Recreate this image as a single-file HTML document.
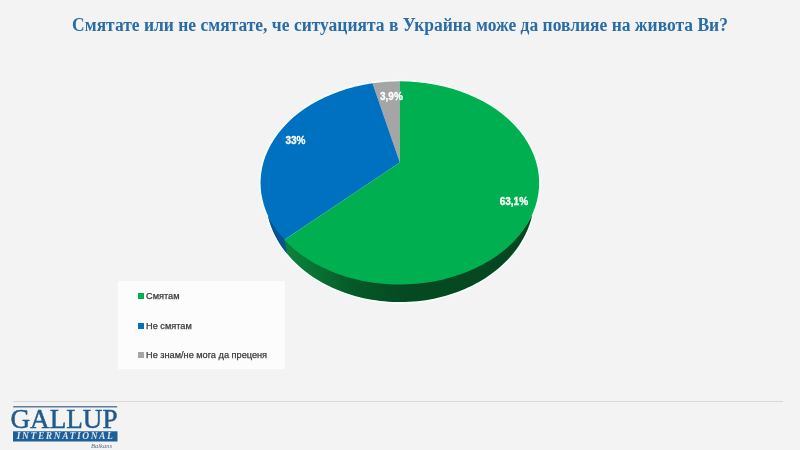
<!DOCTYPE html>
<html><head><meta charset="utf-8">
<style>
html,body{margin:0;padding:0;}
body{width:800px;height:450px;overflow:hidden;background:#f3f3f3;position:relative;font-family:"Liberation Sans","DejaVu Sans",sans-serif;}
.title{position:absolute;left:0;top:12.5px;width:800px;text-align:center;font-family:"Liberation Serif","DejaVu Serif",serif;font-weight:bold;font-size:18px;color:#2a6ca5;white-space:nowrap;line-height:24px;transform:scaleX(0.972);transform-origin:400px 0;}
.legend{position:absolute;left:118px;top:281px;width:167px;height:88px;background:#fcfcfc;}
.li{position:absolute;left:20px;font-size:9.2px;color:#3a3a3a;white-space:nowrap;line-height:12px;-webkit-text-stroke:0.25px #3a3a3a;}
.li i{position:absolute;left:0;top:3px;width:6px;height:6px;}
.li span{position:absolute;left:8px;top:0;}
.sep{position:absolute;left:13px;top:400.5px;width:770px;height:1px;background:#d8d8d8;}
</style></head>
<body>
<div id="wrap" style="position:absolute;left:0;top:0;width:800px;height:450px;filter:blur(0.3px)">
<div class="title">Смятате или не смятате, че ситуацията в Украйна може да повлияе на живота Ви?</div>

<svg width="800" height="450" style="position:absolute;left:0;top:0">
<defs>
<linearGradient id="gside" x1="285" y1="0" x2="537" y2="0" gradientUnits="userSpaceOnUse">
<stop offset="0" stop-color="#0e823d"/><stop offset="0.1" stop-color="#0a7535"/><stop offset="0.26" stop-color="#065a28"/><stop offset="0.46" stop-color="#054a22"/><stop offset="1" stop-color="#05461f"/>
</linearGradient>
<linearGradient id="bside" x1="260" y1="0" x2="290" y2="0" gradientUnits="userSpaceOnUse">
<stop offset="0" stop-color="#0b5595"/><stop offset="1" stop-color="#0a5090"/>
</linearGradient>
</defs>
<!-- halo -->
<ellipse cx="399.85" cy="182.9" rx="139.3" ry="101.6" fill="none" stroke="#f4fffa" stroke-width="3.2"/>
<path d="M532.45,214.02 L531.22,216.42 L529.87,218.96 L528.43,221.49 L526.89,224.02 L525.25,226.51 L523.52,228.98 L521.68,231.42 L519.76,233.83 L517.74,236.19 L515.62,238.52 L513.42,240.81 L511.13,243.06 L508.76,245.25 L506.30,247.41 L503.76,249.51 L501.13,251.56 L498.43,253.56 L495.65,255.51 L492.80,257.40 L489.88,259.23 L486.88,261.00 L483.82,262.71 L480.70,264.37 L477.51,265.95 L474.26,267.48 L470.95,268.94 L467.59,270.33 L464.17,271.65 L460.71,272.91 L457.20,274.09 L453.64,275.21 L450.05,276.25 L446.41,277.22 L442.74,278.12 L439.03,278.94 L435.29,279.69 L431.53,280.37 L427.74,280.96 L423.93,281.49 L420.10,281.93 L416.26,282.30 L412.40,282.59 L408.54,282.80 L404.66,282.94 L400.79,283.00 L396.91,282.98 L393.03,282.88 L389.16,282.70 L385.30,282.45 L381.45,282.12 L377.61,281.71 L373.79,281.23 L369.99,280.67 L366.22,280.03 L362.47,279.32 L358.75,278.53 L355.06,277.67 L351.41,276.74 L347.79,275.73 L344.21,274.65 L340.68,273.50 L337.19,272.28 L333.75,270.98 L330.36,269.63 L327.03,268.20 L323.75,266.71 L320.54,265.15 L317.38,263.53 L314.29,261.85 L311.26,260.10 L308.30,258.30 L305.41,256.44 L302.60,254.52 L299.86,252.55 L297.20,250.52 L294.62,248.44 L292.12,246.32 L289.70,244.14 L287.37,241.92 L285.13,239.65 L282.97,237.34 L280.91,235.00 L278.94,232.61 L277.06,230.19 L275.27,227.74 L273.59,225.26 L272.00,222.75 L270.51,220.23 L269.12,217.70 L267.83,215.32 L267.83,215.32 L268.63,218.53 L269.56,221.73 L270.61,224.90 L271.79,228.04 L273.09,231.15 L274.52,234.23 L276.06,237.28 L277.73,240.28 L279.51,243.24 L281.42,246.16 L283.43,249.03 L285.56,251.85 L287.80,254.61 L290.15,257.32 L292.60,259.97 L295.16,262.56 L297.82,265.09 L300.58,267.55 L303.44,269.94 L306.39,272.26 L309.43,274.51 L312.55,276.68 L315.76,278.78 L319.06,280.79 L322.43,282.73 L325.87,284.58 L329.39,286.34 L332.98,288.02 L336.63,289.61 L340.34,291.11 L344.11,292.52 L347.94,293.84 L351.81,295.06 L355.73,296.19 L359.70,297.22 L363.70,298.16 L367.74,299.00 L371.81,299.73 L375.91,300.37 L380.03,300.91 L384.17,301.35 L388.32,301.68 L392.49,301.92 L396.66,302.05 L400.84,302.08 L405.01,302.01 L409.19,301.83 L413.35,301.56 L417.50,301.18 L421.63,300.70 L425.74,300.13 L429.83,299.45 L433.88,298.67 L437.91,297.79 L441.90,296.82 L445.85,295.75 L449.75,294.58 L453.60,293.32 L457.41,291.97 L461.15,290.52 L464.84,288.98 L468.47,287.36 L472.03,285.64 L475.52,283.84 L478.93,281.96 L482.28,279.99 L485.54,277.94 L488.71,275.82 L491.81,273.61 L494.81,271.34 L497.72,268.99 L500.54,266.57 L503.26,264.08 L505.88,261.53 L508.39,258.92 L510.81,256.24 L513.11,253.51 L515.31,250.72 L517.39,247.88 L519.36,244.99 L521.22,242.06 L522.95,239.08 L524.57,236.06 L526.07,233.00 L527.45,229.91 L528.70,226.78 L529.83,223.63 L530.83,220.45 L531.71,217.24 L532.45,214.02 Z" fill="none" stroke="#f4fffa" stroke-width="3.2"/>
<!-- sides -->
<clipPath id="cb"><polygon points="0,0 284.49,0 284.49,239.84 295.76,300 0,300"/></clipPath>
<path d="M532.45,214.02 L531.22,216.42 L529.87,218.96 L528.43,221.49 L526.89,224.02 L525.25,226.51 L523.52,228.98 L521.68,231.42 L519.76,233.83 L517.74,236.19 L515.62,238.52 L513.42,240.81 L511.13,243.06 L508.76,245.25 L506.30,247.41 L503.76,249.51 L501.13,251.56 L498.43,253.56 L495.65,255.51 L492.80,257.40 L489.88,259.23 L486.88,261.00 L483.82,262.71 L480.70,264.37 L477.51,265.95 L474.26,267.48 L470.95,268.94 L467.59,270.33 L464.17,271.65 L460.71,272.91 L457.20,274.09 L453.64,275.21 L450.05,276.25 L446.41,277.22 L442.74,278.12 L439.03,278.94 L435.29,279.69 L431.53,280.37 L427.74,280.96 L423.93,281.49 L420.10,281.93 L416.26,282.30 L412.40,282.59 L408.54,282.80 L404.66,282.94 L400.79,283.00 L396.91,282.98 L393.03,282.88 L389.16,282.70 L385.30,282.45 L381.45,282.12 L377.61,281.71 L373.79,281.23 L369.99,280.67 L366.22,280.03 L362.47,279.32 L358.75,278.53 L355.06,277.67 L351.41,276.74 L347.79,275.73 L344.21,274.65 L340.68,273.50 L337.19,272.28 L333.75,270.98 L330.36,269.63 L327.03,268.20 L323.75,266.71 L320.54,265.15 L317.38,263.53 L314.29,261.85 L311.26,260.10 L308.30,258.30 L305.41,256.44 L302.60,254.52 L299.86,252.55 L297.20,250.52 L294.62,248.44 L292.12,246.32 L289.70,244.14 L287.37,241.92 L285.13,239.65 L282.97,237.34 L280.91,235.00 L278.94,232.61 L277.06,230.19 L275.27,227.74 L273.59,225.26 L272.00,222.75 L270.51,220.23 L269.12,217.70 L267.83,215.32 L267.83,215.32 L268.63,218.53 L269.56,221.73 L270.61,224.90 L271.79,228.04 L273.09,231.15 L274.52,234.23 L276.06,237.28 L277.73,240.28 L279.51,243.24 L281.42,246.16 L283.43,249.03 L285.56,251.85 L287.80,254.61 L290.15,257.32 L292.60,259.97 L295.16,262.56 L297.82,265.09 L300.58,267.55 L303.44,269.94 L306.39,272.26 L309.43,274.51 L312.55,276.68 L315.76,278.78 L319.06,280.79 L322.43,282.73 L325.87,284.58 L329.39,286.34 L332.98,288.02 L336.63,289.61 L340.34,291.11 L344.11,292.52 L347.94,293.84 L351.81,295.06 L355.73,296.19 L359.70,297.22 L363.70,298.16 L367.74,299.00 L371.81,299.73 L375.91,300.37 L380.03,300.91 L384.17,301.35 L388.32,301.68 L392.49,301.92 L396.66,302.05 L400.84,302.08 L405.01,302.01 L409.19,301.83 L413.35,301.56 L417.50,301.18 L421.63,300.70 L425.74,300.13 L429.83,299.45 L433.88,298.67 L437.91,297.79 L441.90,296.82 L445.85,295.75 L449.75,294.58 L453.60,293.32 L457.41,291.97 L461.15,290.52 L464.84,288.98 L468.47,287.36 L472.03,285.64 L475.52,283.84 L478.93,281.96 L482.28,279.99 L485.54,277.94 L488.71,275.82 L491.81,273.61 L494.81,271.34 L497.72,268.99 L500.54,266.57 L503.26,264.08 L505.88,261.53 L508.39,258.92 L510.81,256.24 L513.11,253.51 L515.31,250.72 L517.39,247.88 L519.36,244.99 L521.22,242.06 L522.95,239.08 L524.57,236.06 L526.07,233.00 L527.45,229.91 L528.70,226.78 L529.83,223.63 L530.83,220.45 L531.71,217.24 L532.45,214.02 Z" fill="url(#gside)"/>
<path d="M532.45,214.02 L531.22,216.42 L529.87,218.96 L528.43,221.49 L526.89,224.02 L525.25,226.51 L523.52,228.98 L521.68,231.42 L519.76,233.83 L517.74,236.19 L515.62,238.52 L513.42,240.81 L511.13,243.06 L508.76,245.25 L506.30,247.41 L503.76,249.51 L501.13,251.56 L498.43,253.56 L495.65,255.51 L492.80,257.40 L489.88,259.23 L486.88,261.00 L483.82,262.71 L480.70,264.37 L477.51,265.95 L474.26,267.48 L470.95,268.94 L467.59,270.33 L464.17,271.65 L460.71,272.91 L457.20,274.09 L453.64,275.21 L450.05,276.25 L446.41,277.22 L442.74,278.12 L439.03,278.94 L435.29,279.69 L431.53,280.37 L427.74,280.96 L423.93,281.49 L420.10,281.93 L416.26,282.30 L412.40,282.59 L408.54,282.80 L404.66,282.94 L400.79,283.00 L396.91,282.98 L393.03,282.88 L389.16,282.70 L385.30,282.45 L381.45,282.12 L377.61,281.71 L373.79,281.23 L369.99,280.67 L366.22,280.03 L362.47,279.32 L358.75,278.53 L355.06,277.67 L351.41,276.74 L347.79,275.73 L344.21,274.65 L340.68,273.50 L337.19,272.28 L333.75,270.98 L330.36,269.63 L327.03,268.20 L323.75,266.71 L320.54,265.15 L317.38,263.53 L314.29,261.85 L311.26,260.10 L308.30,258.30 L305.41,256.44 L302.60,254.52 L299.86,252.55 L297.20,250.52 L294.62,248.44 L292.12,246.32 L289.70,244.14 L287.37,241.92 L285.13,239.65 L282.97,237.34 L280.91,235.00 L278.94,232.61 L277.06,230.19 L275.27,227.74 L273.59,225.26 L272.00,222.75 L270.51,220.23 L269.12,217.70 L267.83,215.32 L267.83,215.32 L268.63,218.53 L269.56,221.73 L270.61,224.90 L271.79,228.04 L273.09,231.15 L274.52,234.23 L276.06,237.28 L277.73,240.28 L279.51,243.24 L281.42,246.16 L283.43,249.03 L285.56,251.85 L287.80,254.61 L290.15,257.32 L292.60,259.97 L295.16,262.56 L297.82,265.09 L300.58,267.55 L303.44,269.94 L306.39,272.26 L309.43,274.51 L312.55,276.68 L315.76,278.78 L319.06,280.79 L322.43,282.73 L325.87,284.58 L329.39,286.34 L332.98,288.02 L336.63,289.61 L340.34,291.11 L344.11,292.52 L347.94,293.84 L351.81,295.06 L355.73,296.19 L359.70,297.22 L363.70,298.16 L367.74,299.00 L371.81,299.73 L375.91,300.37 L380.03,300.91 L384.17,301.35 L388.32,301.68 L392.49,301.92 L396.66,302.05 L400.84,302.08 L405.01,302.01 L409.19,301.83 L413.35,301.56 L417.50,301.18 L421.63,300.70 L425.74,300.13 L429.83,299.45 L433.88,298.67 L437.91,297.79 L441.90,296.82 L445.85,295.75 L449.75,294.58 L453.60,293.32 L457.41,291.97 L461.15,290.52 L464.84,288.98 L468.47,287.36 L472.03,285.64 L475.52,283.84 L478.93,281.96 L482.28,279.99 L485.54,277.94 L488.71,275.82 L491.81,273.61 L494.81,271.34 L497.72,268.99 L500.54,266.57 L503.26,264.08 L505.88,261.53 L508.39,258.92 L510.81,256.24 L513.11,253.51 L515.31,250.72 L517.39,247.88 L519.36,244.99 L521.22,242.06 L522.95,239.08 L524.57,236.06 L526.07,233.00 L527.45,229.91 L528.70,226.78 L529.83,223.63 L530.83,220.45 L531.71,217.24 L532.45,214.02 Z" fill="url(#bside)" clip-path="url(#cb)"/>
<!-- top -->
<path d="M399.85,162.50 L399.85,81.30 A139.3,101.6 0 0 0 372.44,83.29 Z" fill="#a5a5a5"/>
<path d="M399.85,162.50 L372.44,83.29 A139.3,101.6 0 0 0 284.49,239.84 Z" fill="#0070c0"/>
<path d="M399.85,162.50 L284.49,239.84 A139.3,101.6 0 1 0 399.85,81.30 Z" fill="#00b050"/>
<g style="font:bold 10px 'Liberation Sans',sans-serif" fill="#ffffff" stroke="#ffffff" stroke-width="0.3">
<text x="380" y="99.7">3,9%</text>
<text x="285.5" y="144">33%</text>
<text x="499.7" y="205.1">63,1%</text>
</g>
<!-- logo -->
<rect x="13.2" y="406" width="104" height="1.5" fill="#5f7f9c"/>
<text x="10.5" y="428.3" font-family="Liberation Serif, serif" font-size="28" fill="#215a8b" stroke="#215a8b" stroke-width="0.5" textLength="107" lengthAdjust="spacingAndGlyphs">GALLUP</text>
<rect x="13" y="431.3" width="104.5" height="10.2" fill="#1f5f99"/>
<text x="16.8" y="439.4" font-family="Liberation Serif, serif" font-style="italic" font-weight="bold" font-size="9.5" fill="#d4e6f5" textLength="96" lengthAdjust="spacing">INTERNATIONAL</text>
<text x="91" y="447.6" font-family="Liberation Serif, serif" font-style="italic" font-size="7" fill="#5c6b7c" textLength="21" lengthAdjust="spacingAndGlyphs">Balkans</text>
</svg>

<div class="legend">
<div class="li" style="top:9px"><i style="background:#00b050"></i><span>Смятам</span></div>
<div class="li" style="top:39px"><i style="background:#0070c0"></i><span>Не смятам</span></div>
<div class="li" style="top:68px"><i style="background:#a5a5a5"></i><span>Не знам/не мога да преценя</span></div>
</div>
<div class="sep"></div>
</div>
</body></html>
